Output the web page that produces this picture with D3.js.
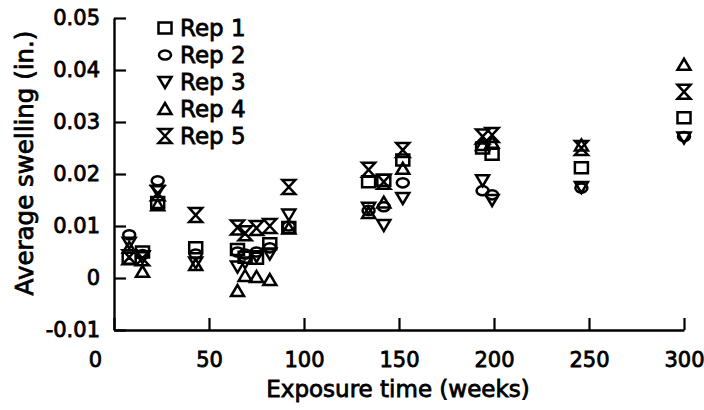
<!DOCTYPE html>
<html>
<head>
<meta charset="utf-8">
<script src="https://cdn.jsdelivr.net/npm/d3@7"></script>
<style>
  html, body { margin: 0; padding: 0; background: #fff; }
  svg text { font-family: "DejaVu Sans", sans-serif; fill: #000; }
</style>
</head>
<body>
<div id="chart"></div>
<script>
// exposure times (weeks) and average swelling (in.) per replicate
const weeks = [8, 15, 23, 43, 65, 69, 75, 82, 92, 134, 142, 152, 194, 199, 246, 300];
const rep1 = [0.0038, 0.0050, 0.0145, 0.0058, 0.0055, 0.0040, 0.0038, 0.0066, 0.0097, 0.0185, 0.0188, 0.0227, 0.0250, 0.0238, 0.0212, 0.0308];
const rep2 = [0.0083, 0.0045, 0.0187, 0.0046, 0.0050, 0.0046, 0.0050, 0.0058, 0.0100, 0.0130, 0.0137, 0.0183, 0.0168, 0.0160, 0.0173, 0.0272];
const rep3 = [0.0068, 0.0040, 0.0168, 0.0030, 0.0022, 0.0030, 0.0042, 0.0047, 0.0122, 0.0135, 0.0102, 0.0154, 0.0188, 0.0150, 0.0175, 0.0270];
const rep4 = [0.0058, 0.0012, 0.0140, 0.0025, -0.0025, 0.0004, 0.0002, -0.0004, 0.0095, 0.0125, 0.0145, 0.0210, 0.0256, 0.0260, 0.0255, 0.0410];
const rep5 = [0.0040, 0.0038, 0.0163, 0.0121, 0.0097, 0.0086, 0.0096, 0.0100, 0.0175, 0.0208, 0.0185, 0.0246, 0.0272, 0.0275, 0.0250, 0.0358];

const seriesNames = ["Rep 1", "Rep 2", "Rep 3", "Rep 4", "Rep 5"];
const seriesValues = [rep1, rep2, rep3, rep4, rep5];
const seriesShapes = ["square", "circle", "down", "up", "hourglass"];

const xTicks = [0, 50, 100, 150, 200, 250, 300];
const xTickLabels = ["0", "50", "100", "150", "200", "250", "300"];
const yTicks = [-0.01, 0, 0.01, 0.02, 0.03, 0.04, 0.05];
const yTickLabels = ["-0.01", "0", "0.01", "0.02", "0.03", "0.04", "0.05"];

const width = 704, height = 410;
const svg = d3.select("#chart").append("svg")
  .attr("width", width)
  .attr("height", height);

const x = d3.scaleLinear().domain([0, 300]).range([114, 684]);
const y = d3.scaleLinear().domain([-0.01, 0.05]).range([330, 18]);

const textStroke = 0.8;

// marker outlines, centred on 0,0
function shapePath(type) {
  switch (type) {
    case "square": return "M-6.5,-5.5H6.5V5.5H-6.5Z";
    case "circle": return "M-6,0A6,4.6 0 1,0 6,0A6,4.6 0 1,0 -6,0Z";
    case "down": return "M-6.5,-5H6.5L0,6Z";
    case "up": return "M-6.5,5H6.5L0,-6Z";
    default: return "M-6.5,-7H6.5L0,0L6.5,7H-6.5L0,0Z";
  }
}

// axes
const xAxis = d3.axisBottom(x)
  .tickValues(xTicks)
  .tickFormat((d, i) => xTickLabels[i])
  .tickSize(-12)
  .tickSizeOuter(0)
  .tickPadding(22);

const yAxis = d3.axisLeft(y)
  .tickValues(yTicks)
  .tickFormat((d, i) => yTickLabels[i])
  .tickSize(-12)
  .tickSizeOuter(0)
  .tickPadding(14);

const gx = svg.append("g").attr("transform", "translate(0,330)").call(xAxis);
const gy = svg.append("g").attr("transform", "translate(114,0)").call(yAxis);

[gx, gy].forEach(g => {
  g.select(".domain").attr("stroke", "#000").attr("stroke-width", 2.4);
  g.selectAll(".tick line").attr("stroke", "#000").attr("stroke-width", 2.2);
  g.selectAll(".tick text")
    .attr("font-family", "DejaVu Sans")
    .attr("font-size", 21)
    .attr("fill", "#000")
    .attr("stroke", "#000")
    .attr("stroke-width", textStroke);
});
// the origin label sits left of the axis in the original
gx.selectAll(".tick text").filter(d => d === 0).attr("dx", -19);

// axis titles
svg.append("text")
  .attr("x", 398).attr("y", 397)
  .attr("text-anchor", "middle")
  .attr("font-size", 23)
  .attr("stroke", "#000").attr("stroke-width", textStroke)
  .text("Exposure time (weeks)");

svg.append("text")
  .attr("transform", "translate(33,163) rotate(-90)")
  .attr("text-anchor", "middle")
  .attr("font-size", 24.5)
  .attr("stroke", "#000").attr("stroke-width", textStroke)
  .text("Average swelling (in.)");

// points
seriesValues.forEach((vals, s) => {
  svg.append("g").selectAll("path")
    .data(vals.map((v, i) => ({ w: weeks[i], v })).filter(d => d.v != null))
    .join("path")
    .attr("transform", d => `translate(${x(d.w)},${y(d.v)})`)
    .attr("d", shapePath(seriesShapes[s]))
    .attr("fill", "none")
    .attr("stroke", "#000")
    .attr("stroke-width", 2.5);
});

// legend
const legend = svg.append("g");
seriesNames.forEach((name, i) => {
  const row = legend.append("g").attr("transform", `translate(165,${28 + i * 27})`);
  row.append("path")
    .attr("d", shapePath(seriesShapes[i]))
    .attr("fill", "none")
    .attr("stroke", "#000")
    .attr("stroke-width", 2.5);
  row.append("text")
    .attr("x", 15)
    .attr("dy", "0.36em")
    .attr("font-size", 23)
    .attr("stroke", "#000").attr("stroke-width", textStroke)
    .text(name);
});
</script>
</body>
</html>
